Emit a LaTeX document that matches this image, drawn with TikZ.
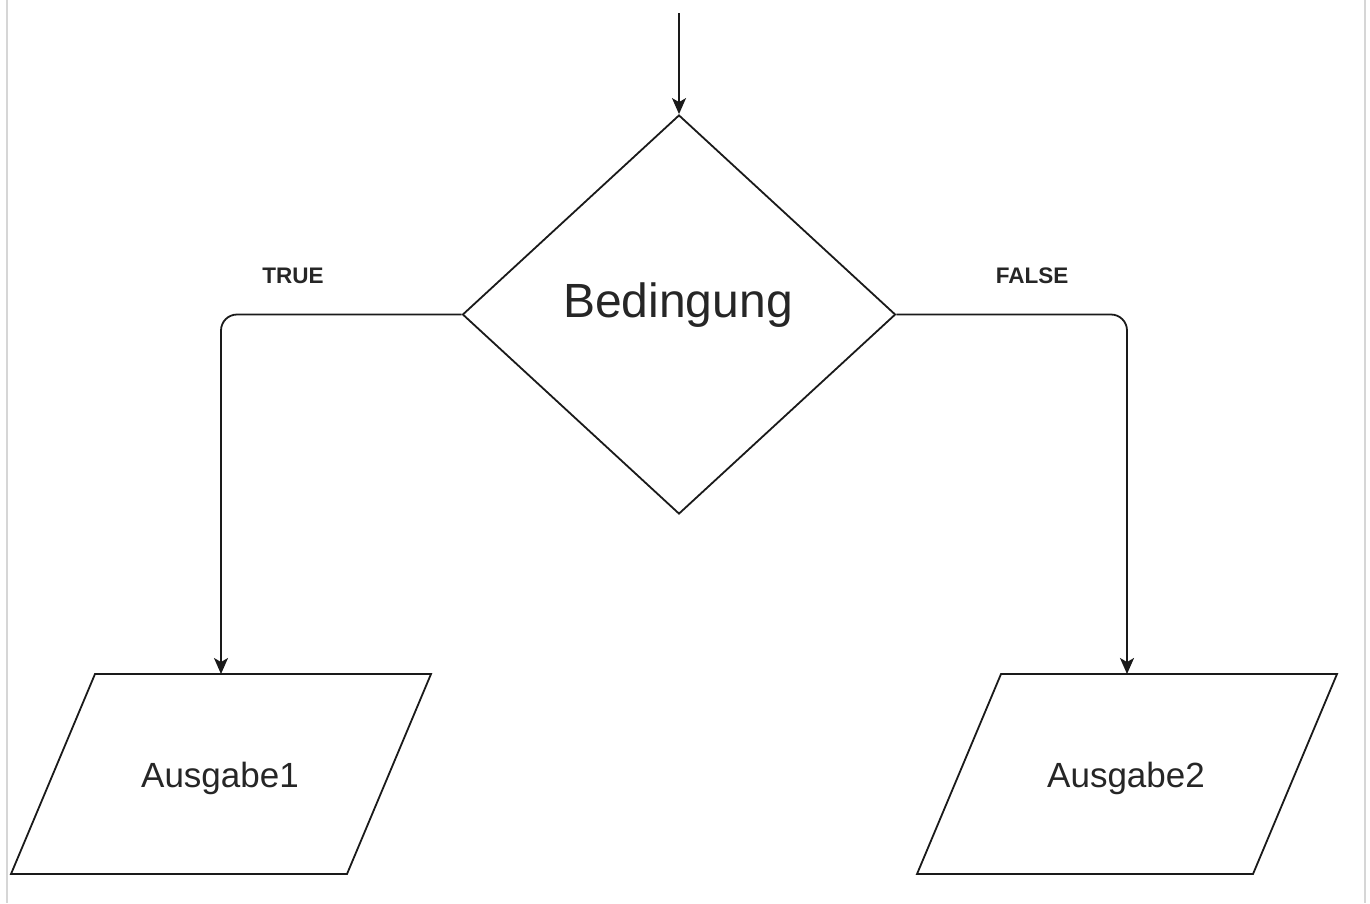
\documentclass[tikz,border=0pt]{standalone}
\usepackage{fontspec}
\setmainfont{Liberation Sans}
\usetikzlibrary{shapes.geometric,arrows.meta}
\definecolor{inkc}{HTML}{1A1A1A}
\definecolor{txtc}{HTML}{262626}
\definecolor{framec}{HTML}{D6D6D6}
\tikzset{
  shapeline/.style={draw=inkc, line width=1.8pt, line join=miter},
  flowarrow/.style={draw=inkc, line width=1.8pt, rounded corners=16pt,
    -{Stealth[length=16pt,width=14pt,inset=4pt]}},
  bigtext/.style={font=\fontsize{48}{52}\selectfont, text=txtc, anchor=base, inner sep=0pt},
  midtext/.style={font=\fontsize{35}{40}\selectfont, text=txtc, anchor=base, inner sep=0pt},
  edgetext/.style={font=\bfseries\fontsize{22.5}{26}\selectfont, text=txtc, anchor=base, inner sep=0pt},
}
\begin{document}
\begin{tikzpicture}[x=1pt,y=-1pt]
\useasboundingbox (0,0) rectangle (1370,903);
% frame lines
\draw[framec, line width=2pt] (7,0) -- (7,903);
\draw[framec, line width=2pt] (1365,0) -- (1365,903);

% decision
\node[diamond, shapeline, minimum width=433pt, minimum height=399pt,
      aspect=1.085, inner sep=0pt] (cond) at (679,314.5) {};
\node[bigtext] (condtext) at (678,317) {Bedingung};

% outputs
\draw[shapeline] (95,674) -- (431,674) -- (347,874) -- (11,874) -- cycle;
\node[midtext] (out1) at (220,787) {Ausgabe1};
\coordinate (in1) at (221,674);

\draw[shapeline] (1001,674) -- (1337,674) -- (1253,874) -- (917,874) -- cycle;
\node[midtext] (out2) at (1126,787) {Ausgabe2};
\coordinate (in2) at (1127,674);

% connectors
\coordinate (start) at (679,13);
\draw[flowarrow] (start) -- (cond.north);
\draw[flowarrow] (cond.west) -| (in1);
\draw[flowarrow] (cond.east) -| (in2);

% labels
\node[edgetext] (ltrue) at (293,283) {TRUE};
\node[edgetext] (lfalse) at (1032,283) {FALSE};
\end{tikzpicture}
\end{document}
